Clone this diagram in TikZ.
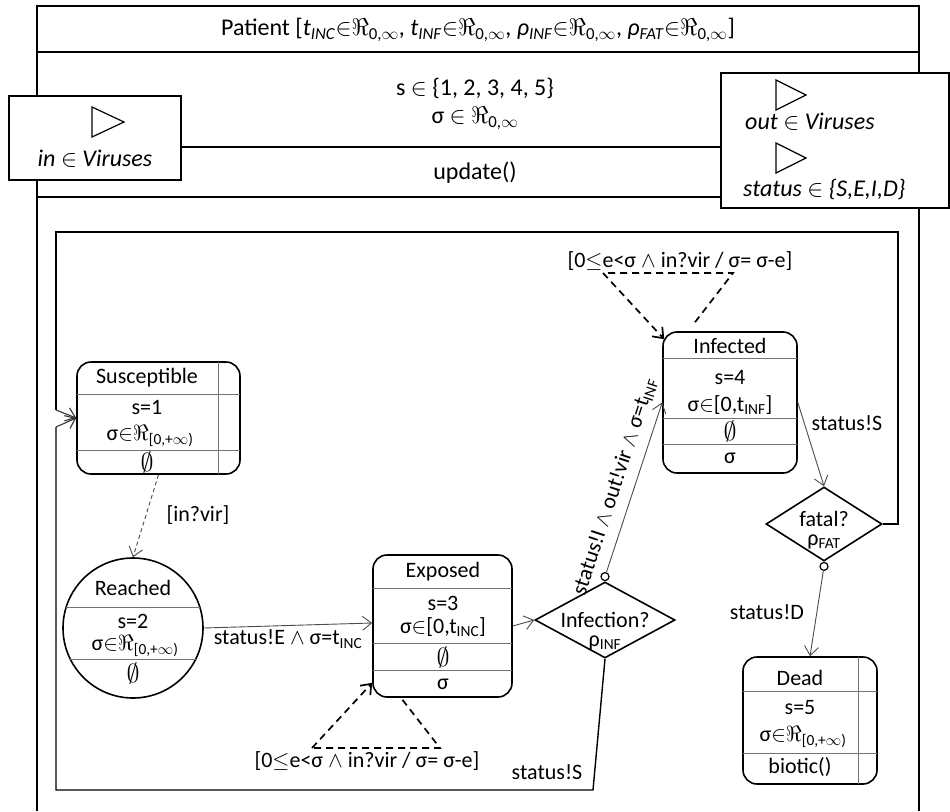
\RequirePackage{fix-cm}
\documentclass[tikz,border=0pt]{standalone}
\usepackage{fontspec}
\setmainfont{Carlito}
\usepackage{amssymb}
\usetikzlibrary{arrows.meta,shapes.geometric}
\newcommand{\myfs}{\fontsize{22}{26}\selectfont}
\newcommand{\topfs}{\fontsize{24}{28}\selectfont}
\newcommand{\Rinf}{$\Re$\textsubscript{[0,+$\infty$)}}
\newcommand{\Rzi}{$\Re$\textsubscript{0,$\infty$}}
\newcommand{\emptyc}{{\fontsize{26}{28}\selectfont$\emptyset$}}
\begin{document}
\begin{tikzpicture}[x=1pt,y=-1pt,
  every node/.style={font=\myfs, inner sep=0pt},
  statebox/.style={draw=black, line width=1.6pt, rounded corners=14pt, fill=white},
  choice/.style={draw=black, line width=1.6pt, shape=diamond, fill=white},
  comp/.style={draw=black!55, line width=0.9pt},
  conn/.style={draw=black!70, line width=0.9pt, -{Straight Barb[length=9pt,width=14pt]}},
  loopline/.style={draw=black, line width=1.4pt},
  looparrow/.style={draw=black!80, line width=1.1pt, -{Straight Barb[length=9pt,width=14pt]}},
  dashtri/.style={draw=black, line width=1.7pt, dash pattern=on 7pt off 5pt},
  dasharrow/.style={dashtri, -{Straight Barb[length=9pt,width=14pt]}},
  frame/.style={draw=black, line width=1.4pt},
  portbox/.style={draw=black, line width=1.4pt, fill=white},
  tri/.style={draw=black, line width=1.2pt},
  smallc/.style={circle, draw=black, line width=1.2pt, fill=white, minimum size=8pt, inner sep=0pt}
]
\useasboundingbox (0,0) rectangle (950,811);

% ---------- outer class frame ----------
\draw[frame] (37,811) -- (37,6) -- (919,6) -- (919,811);
\draw[frame] (37,52) -- (919,52);
\draw[frame] (37,147) -- (919,147);
\draw[frame] (37,197) -- (919,197);

\node[font=\topfs] (title) at (478,30) {Patient [\textit{t}\textsubscript{\textit{INC}}$\in$\Rzi, \textit{t}\textsubscript{\textit{INF}}$\in$\Rzi, \textit{ρ}\textsubscript{\textit{INF}}$\in$\Rzi, \textit{ρ}\textsubscript{\textit{FAT}}$\in$\Rzi]};
\node[font=\topfs] (attr1) at (475,88) {s $\in$ \{1, 2, 3, 4, 5\}};
\node[font=\topfs] (attr2) at (475,118) {σ $\in$ \Rzi};
\node[font=\topfs] (upd) at (475,173) {update()};

% input port box
\draw[portbox] (9,96) rectangle (181,180);
\draw[tri] (92,107) -- (124,122) -- (92,137) -- cycle;
\node[font=\topfs] (inport) at (95,159) {\textit{in} $\in$ \textit{Viruses}};

% output port box
\draw[portbox] (721,73) rectangle (949,208);
\draw[tri] (776,80) -- (806,95) -- (776,110) -- cycle;
\node[font=\topfs, anchor=west] (outport) at (745,122) {\textit{out} $\in$ \textit{Viruses}};
\draw[tri] (776,143) -- (806,158) -- (776,173) -- cycle;
\node[font=\topfs, anchor=west] (statport) at (743,189) {\textit{status} $\in$ \textit{\{S,E,I,D\}}};

% ---------- states ----------
\node[statebox, minimum width=163pt, minimum height=112pt] (sus) at (158.5,418) {};
\draw[comp] (77,394) -- (240,394);
\draw[comp] (77,450) -- (240,450);
\draw[comp] (218,362) -- (218,474);
\node (sus1) at (147,378) {Susceptible};
\node (sus2) at (147,407) {s=1};
\node (sus3) at (150,436) {σ$\in$\Rinf};
\node (sus4) at (147,462) {\emptyc};

\node[circle, draw=black, line width=1.6pt, fill=white, minimum size=140pt] (rea) at (133,628) {};
\draw[comp] (66.2,607) -- (199.8,607);
\draw[comp] (70.2,659) -- (195.8,659);
\node (rea1) at (133,588) {Reached};
\node (rea2) at (133,621) {s=2};
\node (rea3) at (135,646) {σ$\in$\Rinf};
\node (rea4) at (133,673) {\emptyc};

\node[statebox, minimum width=139pt, minimum height=142pt] (exp) at (442.5,626) {};
\draw[comp] (373,588) -- (512,588);
\draw[comp] (373,643) -- (512,643);
\draw[comp] (373,670) -- (512,670);
\node (exp1) at (443,572) {Exposed};
\node (exp2) at (443,603) {s=3};
\node (exp3) at (443,627) {σ$\in$[0,t\textsubscript{INC}]};
\node (exp4) at (443,657) {\emptyc};
\node (exp5) at (443,684) {σ};

\node[statebox, minimum width=134pt, minimum height=141pt] (inf) at (730,402.5) {};
\draw[comp] (663,358) -- (797,358);
\draw[comp] (663,418) -- (797,418);
\draw[comp] (663,444) -- (797,444);
\node (inf1) at (730,346) {Infected};
\node (inf2) at (730,378) {s=4};
\node (inf3) at (730,405) {σ$\in$[0,t\textsubscript{INF}]};
\node (inf4) at (730,431) {\emptyc};
\node (inf5) at (730,458) {σ};

\node[statebox, minimum width=134pt, minimum height=127pt] (dead) at (810,720.5) {};
\draw[comp] (743,691) -- (877,691);
\draw[comp] (743,753) -- (877,753);
\draw[comp] (858,657) -- (858,784);
\node (dead1) at (800,678) {Dead};
\node (dead2) at (800,708) {s=5};
\node (dead3) at (803,737) {σ$\in$\Rinf};
\node (dead4) at (800,767) {biotic()};

% choice points
\node[choice, minimum width=140pt, minimum height=76pt] (infq) at (605,620) {};
\node (infq1) at (605,620) {Infection?};
\node (infq2) at (605,643) {ρ\textsubscript{INF}};
\node[smallc, anchor=south] (c1) at (infq.north) {};

\node[choice, minimum width=116pt, minimum height=74pt] (fat) at (824,524) {};
\node (fat1) at (824,519) {fatal?};
\node (fat2) at (824,542) {ρ\textsubscript{FAT}};
\node[smallc, anchor=north] (c2) at (fat.south) {};

% ---------- loop frame ----------
\coordinate (fr) at (898,524);
\coordinate (tr) at (898,232);
\coordinate (tl) at (56,232);
\coordinate (lu) at (56,410);
\coordinate (sb) at (593,790);
\coordinate (lb) at (56,790);
\coordinate (ll) at (56,427);
\draw[loopline] (fat.east) -- (fr) -- (tr) -- (tl) -- (lu);
\draw[looparrow] (lu) -- (sus.west);
\draw[loopline] (infq.south) -- (sb) -- (lb) -- (ll);
\draw[looparrow] (ll) -- (sus.west);
\node (lbS1) at (547,772) {status!S};

% ---------- transitions ----------
\draw[conn, dash pattern=on 4pt off 3pt] (sus.south) -- (rea.north);
\node (lbvir) at (198,515) {[in?vir]};

\draw[conn] (rea.east) -- node[below=4pt] {status!E $\wedge$ σ=t\textsubscript{INC}} ([yshift=3pt]exp.west);
\draw[conn] (exp.east) -- (infq.west);
\draw[conn] (c1) -- node[sloped, above=9pt, pos=0.47] {status!I $\wedge$ out!vir $\wedge$ σ=t\textsubscript{INF}} (inf.west);
\draw[conn] (inf.east) -- (fat.north);
\node (lbS2) at (847,423) {status!S};
\draw[conn] (c2) -- (dead.north);
\node (lbD) at (767,612) {status!D};

% internal (self) transitions
\coordinate (e1) at (440,748);
\coordinate (e2) at (312,748);
\draw[dashtri] ([xshift=-40pt,yshift=-2pt]exp.south) -- (e1) -- (e2);
\draw[dasharrow] (e2) -- ([yshift=15pt]exp.south west);
\node (lbE) at (367,761) {[0$\le$e<σ $\wedge$ in?vir / σ= σ-e]};

\coordinate (i1) at (733,273);
\coordinate (i2) at (603,273);
\draw[dashtri] ([xshift=-35pt,yshift=9pt]inf.north) -- (i1) -- (i2);
\draw[dasharrow] (i2) -- ([xshift=2pt,yshift=-8pt]inf.north west);
\node (lbI) at (680,261) {[0$\le$e<σ $\wedge$ in?vir / σ= σ-e]};
\end{tikzpicture}
\end{document}
